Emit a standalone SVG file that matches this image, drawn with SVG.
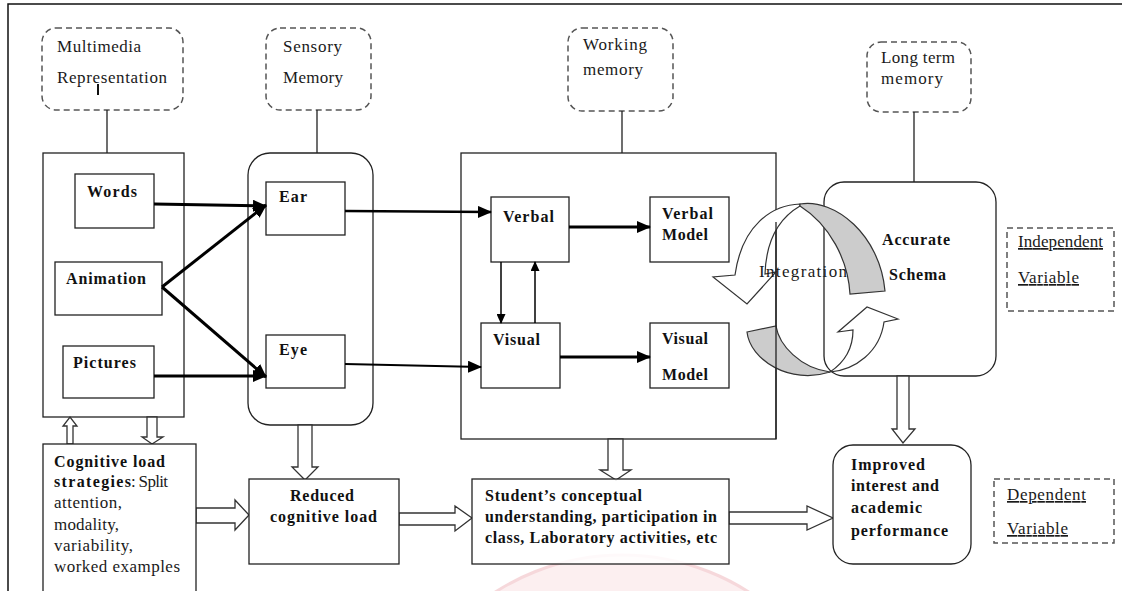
<svg xmlns="http://www.w3.org/2000/svg" width="1122" height="591" viewBox="0 0 1122 591">
<style>
.dash{fill:none;stroke:#555;stroke-width:1.5;stroke-dasharray:6 4}
.box{fill:#fff;stroke:#222;stroke-width:1.3}
.ln{fill:none;stroke:#222;stroke-width:1.3}
.blk{fill:#fff;stroke:#333;stroke-width:1.3;stroke-linejoin:miter}
.arr{fill:none;stroke:#000}
.r{font-family:"Liberation Serif",serif;font-size:17px;fill:#1a1a1a}
.b{font-family:"Liberation Serif",serif;font-size:16px;font-weight:bold;fill:#111}
.u{text-decoration:underline}
</style>
<defs>
<marker id="ah" markerUnits="userSpaceOnUse" markerWidth="14" markerHeight="12" refX="13" refY="6" orient="auto"><path d="M0,0 L14,6 L0,12 Z" fill="#000"/></marker>
<marker id="ahs" markerUnits="userSpaceOnUse" markerWidth="10" markerHeight="9" refX="9" refY="4.5" orient="auto"><path d="M0,0 L10,4.5 L0,9 Z" fill="#000"/></marker>
</defs>
<rect width="1122" height="591" fill="#fff"/>
<path d="M8,591 L8,4 L1122,4" fill="none" stroke="#111" stroke-width="1.5"/>

<g id="watermark" opacity="0.22">
<circle cx="622" cy="790" r="235" fill="#f4b8be" stroke="#d9505e" stroke-width="3"/>
</g>

<g id="multimedia-label">
<rect class="dash" x="42" y="28" width="141" height="82" rx="14"/>
<text class="r" x="57" y="52" textLength="84">Multimedia</text>
<text class="r" x="57" y="83" textLength="110">Representation</text>
<rect x="97" y="84" width="2" height="11" fill="#111"/>
</g>
<g id="sensory-label">
<rect class="dash" x="266" y="28" width="105" height="82" rx="14"/>
<text class="r" x="283" y="52" textLength="59">Sensory</text>
<text class="r" x="283" y="83" textLength="60">Memory</text>
</g>
<g id="working-label">
<rect class="dash" x="568" y="28" width="105" height="83" rx="14"/>
<text class="r" x="583" y="50" textLength="64">Working</text>
<text class="r" x="583" y="75" textLength="60">memory</text>
</g>
<g id="longterm-label">
<rect class="dash" x="867" y="42" width="104" height="70" rx="14"/>
<text class="r" x="881" y="63" textLength="74">Long term</text>
<text class="r" x="881" y="84" textLength="62">memory</text>
</g>

<g id="multimedia">
<rect class="box" x="43" y="153" width="141" height="264"/>
</g>
<g id="sensory">
<rect class="box" x="248" y="153" width="125" height="272" rx="22"/>
</g>
<g id="working">
<rect class="box" x="461" y="153" width="315" height="286"/>
</g>
<g id="schema">
<rect class="box" x="824" y="182" width="172" height="194" rx="20"/>
<text class="b" x="882" y="245" textLength="68">Accurate</text>
<text class="b" x="889" y="280" textLength="57">Schema</text>
</g>

<g id="words">
<rect class="box" x="75" y="174" width="79" height="54"/>
<text class="b" x="87" y="197" textLength="50">Words</text>
</g>
<g id="animation">
<rect class="box" x="55" y="262" width="107" height="53"/>
<text class="b" x="66" y="284" textLength="80">Animation</text>
</g>
<g id="pictures">
<rect class="box" x="63" y="346" width="91" height="52"/>
<text class="b" x="73" y="368" textLength="63">Pictures</text>
</g>
<g id="ear">
<rect class="box" x="266" y="182" width="79" height="53"/>
<text class="b" x="279" y="202" textLength="28">Ear</text>
</g>
<g id="eye">
<rect class="box" x="266" y="335" width="79" height="53"/>
<text class="b" x="279" y="355" textLength="28">Eye</text>
</g>
<g id="verbal">
<rect class="box" x="491" y="197" width="78" height="65"/>
<text class="b" x="503" y="222" textLength="51">Verbal</text>
</g>
<g id="verbal-model">
<rect class="box" x="650" y="197" width="79" height="65"/>
<text class="b" x="662" y="219" textLength="51">Verbal</text>
<text class="b" x="662" y="240" textLength="46">Model</text>
</g>
<g id="visual">
<rect class="box" x="481" y="323" width="79" height="65"/>
<text class="b" x="493" y="345" textLength="47">Visual</text>
</g>
<g id="visual-model">
<rect class="box" x="650" y="323" width="79" height="65"/>
<text class="b" x="662" y="344" textLength="46">Visual</text>
<text class="b" x="662" y="380" textLength="46">Model</text>
</g>

<g id="connectors">
<path class="ln" d="M107,110 V153 M317,110 V153 M622,111 V153 M914,112 V182"/>
<path class="arr" stroke-width="3" marker-end="url(#ah)" d="M154,204 L266,206"/>
<path class="arr" stroke-width="3" marker-end="url(#ah)" d="M162,287 L266,205"/>
<path class="arr" stroke-width="3" marker-end="url(#ah)" d="M162,287 L266,377"/>
<path class="arr" stroke-width="3" marker-end="url(#ah)" d="M154,376 L266,376"/>
<path class="arr" stroke-width="2.5" marker-end="url(#ah)" d="M345,211 L491,212"/>
<path class="arr" stroke-width="2" marker-end="url(#ah)" d="M345,364 L481,367"/>
<path class="arr" stroke-width="3" marker-end="url(#ah)" d="M569,227 L650,227"/>
<path class="arr" stroke-width="3" marker-end="url(#ah)" d="M560,357 L650,357"/>
<path class="arr" stroke-width="1.5" marker-end="url(#ahs)" d="M501,262 L501,323"/>
<path class="arr" stroke-width="1.5" marker-end="url(#ahs)" d="M535,323 L535,262"/>
</g>

<g id="integration">
<path d="M800,204 C772,205 742,225 735,275 L713,277 L747,304 L776,272 L765,274 C766,245 776,220 800,206 Z" fill="#fff" stroke="#333" stroke-width="1.2"/>
<path d="M800,204 C835,198 880,235 885,291 L850,294 C848,260 830,225 800,206 Z" fill="#cccccc" stroke="#333" stroke-width="1.2"/>
<path d="M747,332 L776,326 C779,345 800,368 830,372 C790,385 750,360 747,332 Z" fill="#cccccc" stroke="#333" stroke-width="1.2"/>
<path d="M830,372 C855,370 880,352 884,322 L898,319 L867,307 L838,332 L853,330 C853,348 845,362 830,372 Z" fill="#fff" stroke="#333" stroke-width="1.2"/>
<path d="M776,222 V439" stroke="#222" stroke-width="1.3" fill="none"/>
<text class="r" x="759" y="277" font-size="18" textLength="88">Integration</text>
</g>

<g id="independent">
<rect class="dash" x="1007" y="228" width="107" height="83"/>
<text class="r u" x="1018" y="247" textLength="85">Independent</text>
<text class="r u" x="1018" y="283" textLength="61">Variable</text>
</g>

<g id="block-arrows">
<polygon class="blk" points="67,444 67,426 63,426 70,417 77,426 73,426 73,444"/>
<polygon class="blk" points="147,417 147,437 142,437 152,444 163,437 157,437 157,417"/>
<polygon class="blk" points="298,425 298,467 292,467 305,480 318,467 312,467 312,425"/>
<polygon class="blk" points="608,439 608,470 600,470 616,480 631,470 623,470 623,439"/>
<polygon class="blk" points="897,376 897,429 892,429 903,443 915,429 909,429 909,376"/>
<polygon class="blk" points="196,508 235,508 235,500 249,515 235,530 235,523 196,523"/>
<polygon class="blk" points="399,513 455,513 455,506 472,518 455,531 455,525 399,525"/>
<polygon class="blk" points="729,512 807,512 807,506 833,518 807,530 807,524 729,524"/>
</g>

<g id="strategies">
<rect class="box" x="43" y="444" width="153" height="160"/>
<text class="b" x="54" y="467" textLength="111">Cognitive load</text>
<text class="b" x="54" y="487" textLength="77">strategies</text>
<text class="r" x="131" y="487" textLength="37">: Split</text>
<text class="r" x="54" y="508" textLength="68">attention,</text>
<text class="r" x="54" y="530" textLength="65">modality,</text>
<text class="r" x="54" y="551" textLength="79">variability,</text>
<text class="r" x="54" y="572" textLength="126">worked examples</text>
</g>
<g id="reduced">
<rect class="box" x="249" y="479" width="150" height="85"/>
<text class="b" x="290" y="501" textLength="64">Reduced</text>
<text class="b" x="270" y="522" textLength="107">cognitive load</text>
</g>
<g id="student">
<rect class="box" x="472" y="479" width="257" height="85" fill-opacity="0.85"/>
<text class="b" x="485" y="501" textLength="157">Student’s conceptual</text>
<text class="b" x="485" y="522" textLength="232">understanding, participation in</text>
<text class="b" x="485" y="543" textLength="232">class, Laboratory activities, etc</text>
</g>
<g id="improved">
<rect class="box" x="833" y="445" width="138" height="119" rx="20"/>
<text class="b" x="851" y="470" textLength="74">Improved</text>
<text class="b" x="851" y="491" textLength="88">interest and</text>
<text class="b" x="851" y="513" textLength="71">academic</text>
<text class="b" x="851" y="536" textLength="97">performance</text>
</g>
<g id="dependent">
<rect class="dash" x="994" y="479" width="120" height="64"/>
<text class="r u" x="1007" y="500" textLength="79">Dependent</text>
<text class="r u" x="1007" y="534" textLength="61">Variable</text>
</g>
</svg>
